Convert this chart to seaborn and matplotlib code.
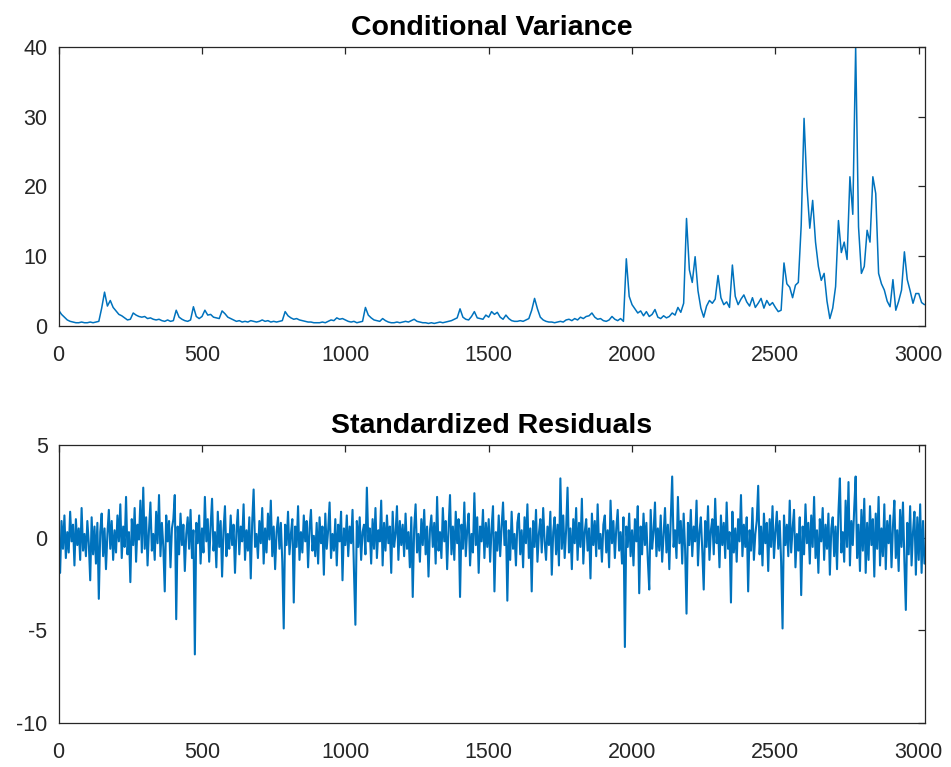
import numpy as np
import matplotlib.pyplot as plt
import seaborn as sns

# conditional variance, one value every 10 observations (x = 0, 10, ..., 3020)
cond_var = [
    2.2, 1.6, 1.2, 0.8, 0.6, 0.5, 0.4, 0.4, 0.5, 0.4,
    0.4, 0.5, 0.4, 0.5, 0.6, 2.5, 4.8, 2.8, 3.6, 2.6,
    2.1, 1.6, 1.4, 1.1, 0.8, 0.9, 1.8, 1.5, 1.3, 1.2,
    1.3, 1.0, 1.1, 0.9, 0.8, 0.9, 0.7, 0.6, 0.8, 0.6,
    0.7, 2.2, 1.2, 0.9, 0.7, 0.6, 0.8, 2.7, 1.3, 1.0,
    1.3, 2.2, 1.5, 1.6, 1.2, 1.1, 1.0, 2.1, 1.7, 1.2,
    1.0, 0.8, 0.6, 0.7, 0.5, 0.6, 0.5, 0.7, 0.6, 0.5,
    0.6, 0.8, 0.6, 0.7, 0.5, 0.6, 0.5, 0.6, 0.7, 2.0,
    1.4, 1.1, 0.9, 1.0, 0.8, 0.7, 0.6, 0.5, 0.5, 0.4,
    0.4, 0.4, 0.5, 0.4, 0.6, 0.8, 0.7, 1.1, 0.9, 1.0,
    0.8, 0.6, 0.5, 0.6, 0.4, 0.5, 0.6, 2.6, 1.5, 1.1,
    0.8, 0.7, 0.6, 1.0, 0.7, 0.5, 0.4, 0.4, 0.5, 0.4,
    0.5, 0.6, 0.5, 0.7, 0.9, 0.6, 0.5, 0.4, 0.4, 0.3,
    0.4, 0.3, 0.4, 0.5, 0.4, 0.5, 0.6, 0.7, 0.9, 1.1,
    2.4, 1.2, 0.9, 0.8, 1.3, 2.0, 1.1, 1.0, 0.9, 1.5,
    1.2, 2.0, 1.6, 1.9, 1.2, 0.9, 1.5, 1.0, 0.7, 0.6,
    0.6, 0.7, 0.6, 0.8, 1.0, 2.2, 3.9, 2.4, 1.2, 0.8,
    0.6, 0.5, 0.5, 0.4, 0.5, 0.6, 0.5, 0.8, 0.9, 0.7,
    1.0, 0.8, 1.2, 1.0, 1.3, 1.4, 1.8, 1.2, 0.9, 1.0,
    0.7, 0.6, 0.8, 1.3, 0.9, 0.7, 1.0, 0.6, 9.6, 4.2,
    3.0, 2.4, 1.8, 2.1, 1.4, 2.0, 1.3, 1.6, 2.3, 1.2,
    1.0, 1.4, 1.1, 1.3, 1.8, 1.5, 2.6, 1.9, 3.2, 15.4,
    8.0, 6.2, 9.9, 5.0, 2.5, 1.2, 2.8, 3.6, 3.2, 3.8,
    7.2, 4.0, 3.0, 3.4, 2.6, 8.7, 4.2, 3.0, 3.8, 4.4,
    3.4, 2.8, 4.0, 2.6, 3.2, 3.9, 2.5, 3.6, 2.9, 3.3,
    2.6, 2.0, 2.2, 9.0, 6.0, 5.5, 4.0, 5.8, 6.2, 14.4,
    29.8, 20.0, 14.0, 18.0, 12.0, 8.5, 6.5, 7.5, 3.5, 1.0,
    2.5, 5.6, 15.1, 10.5, 12.0, 9.5, 21.4, 16.0, 40.0, 14.2,
    7.5, 8.5, 13.7, 12.0, 21.4, 19.0, 7.5, 6.0, 5.1, 3.5,
    2.7, 6.6, 2.2, 3.5, 5.1, 10.6, 6.6, 5.0, 3.2, 4.6,
    4.6, 3.3, 3.0,
]

# standardized residuals, one value every 5 observations (x = 0, 5, ..., 3020)
std_resid = [
    0.4, -1.9, 0.9, -0.6, 1.2, -1.1, 0.3, -0.8, 1.4, -0.2, 0.7, -1.5, 1.0, -0.4, 0.5, -1.2, 1.6, -0.7, 0.2, -1.0,
    0.9, -0.3, -2.3, 1.1, -0.9, 0.6, -1.4, 0.8, -3.3, 0.3, 1.3, -1.0, 0.5, -1.7, 0.2, 1.5, -0.6, 0.9, -1.2, 0.4,
    -0.8, 1.2, -0.2, 1.8, -1.1, 0.6, -0.5, 2.2, -0.9, 0.3, -2.4, 1.0, -0.4, 1.6, -1.3, 0.7, -0.1, 2.0, -0.8, 2.7,
    -0.6, 1.1, -1.5, 0.4, 1.9, -0.7, 0.2, -1.2, 1.4, -0.3, 2.3, -1.0, 0.8, -0.5, -2.9, 1.2, -0.2, 0.9, -1.6, 0.5,
    1.0, 2.3, -4.4, 0.6, -0.9, 1.3, -0.4, 0.7, -1.8, 0.2, 1.1, -0.6, 1.5, -1.1, 0.4, -6.3, 0.8, -0.3, 1.2, -1.4,
    0.5, -0.8, 2.2, -0.2, 1.0, -1.3, 0.6, 2.1, -0.7, 0.3, -1.6, 1.4, -0.5, 0.9, -2.1, 0.4, 1.7, -1.0, 0.2, -0.6,
    1.2, -0.4, 0.7, -1.9, 0.3, 1.5, -0.9, 0.6, -0.2, 1.8, -1.2, 0.4, -0.7, 1.1, -2.2, 0.8, 2.6, -0.5, 0.2, -1.1,
    0.9, -0.3, 1.6, -1.4, 0.5, -0.8, 1.3, -0.1, 2.0, -1.0, 0.6, -1.7, 0.3, 1.1, -0.6, 0.8, -1.3, -4.9, 0.7, -0.4,
    1.4, -0.9, 0.2, 1.0, -3.5, 0.6, -0.5, 1.7, -1.2, 0.3, -0.8, 1.2, -0.2, 0.9, -1.6, 0.5, 1.5, -0.7, 0.1, -1.0,
    0.8, -1.4, 1.1, -0.3, 0.6, -2.0, 1.3, -0.6, 0.4, 1.9, -1.1, 0.2, -0.7, 1.0, -1.5, 0.7, -0.2, 1.4, -2.3, 0.5,
    -0.4, 1.2, -1.0, 0.6, -0.3, 1.5, -1.8, -4.7, 0.9, -0.5, 1.1, -1.2, 0.3, 0.7, -0.9, 2.7, -0.2, 0.5, -1.4, 1.0,
    -0.6, 1.6, -1.1, 0.4, -0.2, 2.0, -1.5, 0.8, -0.7, 1.2, -0.3, 0.6, -1.9, 1.4, -0.5, 0.2, 1.7, -1.2, 0.9, -0.4,
    0.7, -1.0, 1.3, -0.6, 0.3, -1.6, 1.1, -3.2, 0.5, 1.8, -0.8, 0.2, -1.3, 1.0, -0.4, 1.5, -0.9, 0.6, -2.1, 0.4,
    1.2, -0.5, 0.8, -1.4, 2.2, -0.7, 0.3, -1.1, 1.6, -0.2, 0.9, -1.7, 0.5, 2.3, -0.9, 0.6, -1.2, 1.4, -0.3, 1.0,
    -3.2, 0.7, -0.6, 1.9, -1.0, 0.4, 1.3, -1.5, 0.2, -0.8, 2.4, -0.4, 1.1, -1.9, 0.6, -0.2, 1.5, -1.1, 0.8, -0.5,
    1.0, -1.3, 0.5, 1.7, -2.9, 0.3, -0.7, 1.2, -1.0, 0.6, 1.9, -0.4, 0.9, -3.4, 0.4, -1.2, 1.4, -0.6, 0.2, -1.5,
    0.8, 1.3, -0.9, 0.4, -1.6, 1.1, -0.3, 1.8, -1.1, 0.5, -2.9, 0.9, -0.5, 1.5, -1.3, 0.2, 1.0, -0.8, 1.6, -0.2,
    -1.2, 0.6, -0.4, 1.4, -2.0, 0.3, 1.1, -0.9, 0.7, -1.5, 3.2, -0.6, 1.2, -1.1, 0.4, 2.7, -0.8, 0.5, -1.7, 1.0,
    -0.3, 1.6, -1.2, 0.8, -0.5, 2.1, -1.4, 0.3, 1.0, -0.7, 0.5, -2.2, 1.3, -0.4, 0.9, -1.0, 1.8, -0.6, 0.2, -1.3,
    0.7, 1.2, -0.8, 0.4, -1.6, 2.0, -0.3, 0.9, -1.1, 0.5, 1.5, -0.7, 0.3, -1.4, 1.1, -5.9, 0.6, -0.5, 1.3, -1.0,
    0.4, -1.5, 1.0, -0.2, 1.7, -3.0, 0.6, -0.9, 1.3, -0.4, 0.8, -1.2, -2.8, 1.5, -0.6, 0.3, 1.9, -1.0, 0.5, -0.7,
    1.2, -1.3, 0.2, 1.6, -0.8, 0.7, -1.7, 1.0, 3.3, -0.5, 0.4, -1.1, 2.2, -0.3, 0.9, -1.4, 1.3, -0.6, -4.1, 0.8,
    -0.4, 1.5, -1.0, 0.6, -0.2, 2.0, -1.5, 0.3, 1.1, -0.7, -2.8, 0.9, -0.5, 1.7, -1.2, 0.4, 1.0, -0.9, 2.1, -0.3,
    0.6, -1.6, 1.2, -0.4, 0.8, -1.1, 1.9, -0.6, 0.3, -3.5, 1.4, -0.8, 0.5, -1.3, 1.0, -0.2, 2.3, -1.0, 0.7, -0.5,
    1.1, -2.9, 0.4, -0.7, 1.6, -1.2, 0.2, 0.9, 2.8, -0.9, 0.6, -1.5, 1.3, -0.3, 0.8, -1.8, 1.0, -0.5, 1.7, -1.1,
    0.3, 1.4, -0.6, 0.9, -1.3, -4.9, 1.2, -0.4, 0.7, -1.0, 2.0, -0.8, 0.5, 1.5, -1.6, 0.2, -0.7, 1.1, -3.1, 0.6,
    -0.9, 1.8, -0.3, 0.8, -1.4, 1.2, -0.5, 2.2, -1.1, 0.4, -1.9, 1.0, -0.2, 1.6, -1.2, 0.7, -0.6, 1.3, -2.0, 0.5,
    1.1, -1.0, 0.6, -1.7, 1.4, 3.2, -0.8, 0.3, -1.3, 2.0, -0.5, 3.0, -1.5, 0.9, -0.4, 1.6, 3.3, -1.1, 0.7, -1.8,
    1.5, -0.7, 2.1, -1.9, 0.8, -1.2, 1.7, -0.4, 1.0, -2.1, 1.3, -0.6, 2.2, -1.5, 0.5, -1.0, 1.8, -1.7, 0.9, -0.3,
    1.2, -1.6, 0.6, 2.0, -1.1, 0.4, -1.8, 1.5, -0.5, 1.9, -1.3, -3.9, 0.8, -0.9, 1.7, -1.5, 0.3, 1.4, -2.0, 1.1,
    -1.2, 1.8, -1.9, 0.9, -1.4,
]

x_var = np.arange(len(cond_var)) * 10
x_res = np.arange(len(std_resid)) * 5

blue = "#0072BD"
ink = "#262626"

sns.set_style("white")
plt.rcParams["font.family"] = ["Liberation Sans", "DejaVu Sans"]
plt.rcParams["axes.edgecolor"] = ink
plt.rcParams["axes.linewidth"] = 0.9
plt.rcParams["axes.unicode_minus"] = False

fig = plt.figure(figsize=(9.51, 7.67), dpi=100)
ax1 = fig.add_axes([0.0617, 0.5756, 0.9110, 0.3625])
ax2 = fig.add_axes([0.0617, 0.0574, 0.9110, 0.3624])

sns.lineplot(x=x_var, y=cond_var, ax=ax1, color=blue, linewidth=1.1)
sns.lineplot(x=x_res, y=std_resid, ax=ax2, color=blue, linewidth=1.5)

ax1.set_ylim(0, 40)
ax1.set_yticks([0, 10, 20, 30, 40])
ax2.set_ylim(-10, 5)
ax2.set_yticks([-10, -5, 0, 5])

for ax, title in [(ax1, "Conditional Variance"), (ax2, "Standardized Residuals")]:
    ax.set_xlim(0, 3022)
    ax.set_xticks(range(0, 3001, 500))
    ax.set_title(title, fontsize=20.5, fontweight="bold", color="black", pad=9)
    ax.tick_params(direction="in", length=5, width=0.9, color=ink,
                   labelcolor=ink, labelsize=15.5, top=True, right=True)
    ax.tick_params(axis="x", pad=14)
    ax.tick_params(axis="y", pad=8)
    for s in ax.spines.values():
        s.set_visible(True)
        s.set_color(ink)

fig.savefig("out.png", dpi=100)
